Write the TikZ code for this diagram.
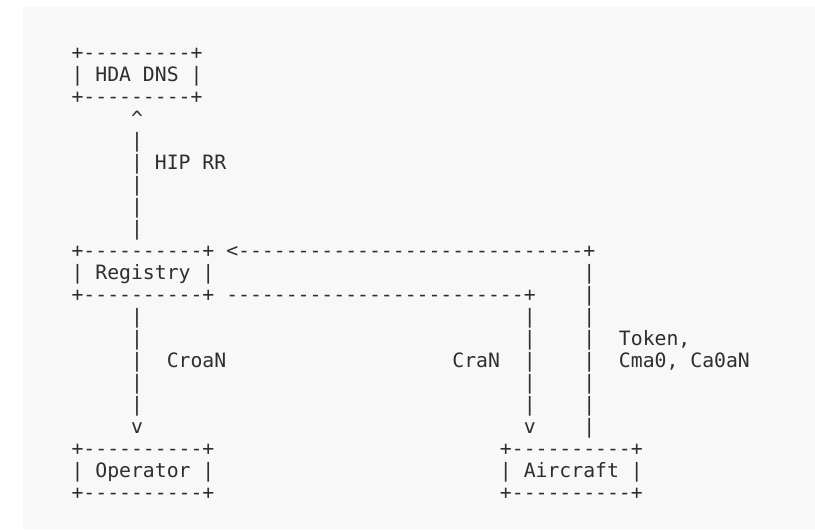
\documentclass[tikz,border=0pt]{standalone}
\usepackage{fontspec}
\setmonofont{DejaVu Sans Mono}
\definecolor{ink}{HTML}{2E2E2E}
\definecolor{paper}{HTML}{F8F8F8}
\tikzset{
  ascii/.style={font=\ttfamily\fontsize{19.77bp}{22bp}\selectfont, text=ink,
    anchor=base west, inner sep=0pt, outer sep=0pt},
}
\begin{document}
\begin{tikzpicture}[x=11.9bp, y=-22bp]
        \path[use as bounding box] (-6.013,-2.705) rectangle (62.475,21.341);
        \fill[paper] (-4.08,-2.386) rectangle (62.475,21.341);

        % HDA DNS box
        \node[ascii] (hdatop) at (0,0) {+---------+};
        \node[ascii] (hda) at (0,1) {| HDA DNS |};
        \node[ascii] (hdabot) at (0,2) {+---------+};

        % HIP RR
        \node[ascii] (hipup) at (5,3) {\textasciicircum};
        \foreach \r in {4,...,8}
            \node[ascii] (hip\r) at (5,\r) {|};
        \node[ascii] (hiplbl) at (7,5) {HIP RR};

        % Registry box
        \node[ascii] (regtop) at (0,9) {+----------+};
        \node[ascii] (reg) at (0,10) {| Registry |};
        \node[ascii] (regbot) at (0,11) {+----------+};

        % token line back to registry
        \node[ascii] (tokline) at (13,9) {<-----------------------------+};
        \foreach \r in {10,...,17}
            \node[ascii] (tok\r) at (43,\r) {|};
        \node[ascii] (toklbl) at (46,13) {Token,};
        \node[ascii] (toklbl2) at (46,14) {Cma0, Ca0aN};

        % CraN line to aircraft
        \node[ascii] (craline) at (13,11) {-------------------------+};
        \foreach \r in {12,...,16}
            \node[ascii] (cra\r) at (38,\r) {|};
        \node[ascii] (cradown) at (38,17) {v};
        \node[ascii] (cralbl) at (32,14) {CraN};

        % CroaN line to operator
        \foreach \r in {12,...,16}
            \node[ascii] (croa\r) at (5,\r) {|};
        \node[ascii] (croadown) at (5,17) {v};
        \node[ascii] (croalbl) at (8,14) {CroaN};

        % Operator and Aircraft boxes
        \node[ascii] (optop) at (0,18) {+----------+};
        \node[ascii] (op) at (0,19) {| Operator |};
        \node[ascii] (opbot) at (0,20) {+----------+};
        \node[ascii] (actop) at (36,18) {+----------+};
        \node[ascii] (ac) at (36,19) {| Aircraft |};
        \node[ascii] (acbot) at (36,20) {+----------+};
    \end{tikzpicture}
\end{document}
